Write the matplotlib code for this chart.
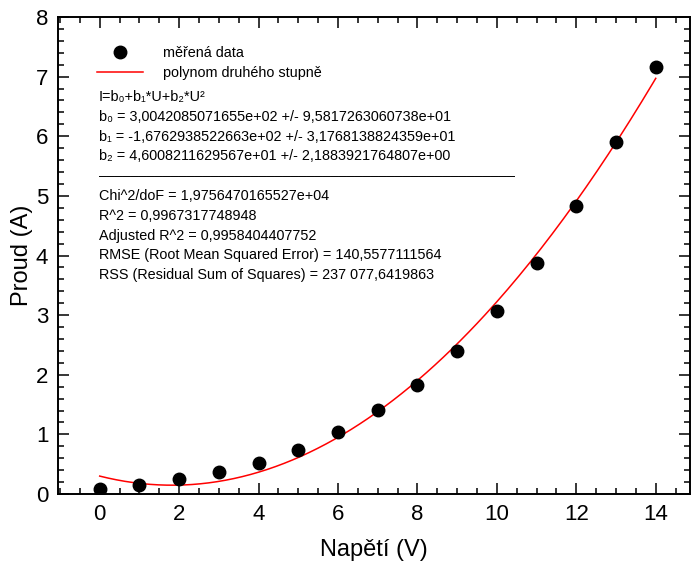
import numpy as np
import matplotlib.pyplot as plt
from matplotlib.lines import Line2D
from matplotlib.ticker import MultipleLocator

plt.rcParams['font.family'] = ['Liberation Sans', 'DejaVu Sans']

# measured data
napeti = [0, 1, 2, 3, 4, 5, 6, 7, 8, 9, 10, 11, 12, 13, 14]
proud = [0.08, 0.15, 0.25, 0.37, 0.52, 0.74, 1.04, 1.41, 1.83, 2.40,
         3.07, 3.88, 4.83, 5.91, 7.16]

# fit coefficients (from the report, mA -> A)
b0 = 3.0042085071655e+02 / 1000
b1 = -1.6762938522663e+02 / 1000
b2 = 4.6008211629567e+01 / 1000

fit_lines = [
    "I=b\u2080+b\u2081*U+b\u2082*U\u00b2",
    "b\u2080 = 3,0042085071655e+02 +/- 9,5817263060738e+01",
    "b\u2081 = -1,6762938522663e+02 +/- 3,1768138824359e+01",
    "b\u2082 = 4,6008211629567e+01 +/- 2,1883921764807e+00",
    "\u2013" * 52,
    "Chi^2/doF = 1,9756470165527e+04",
    "R^2 = 0,9967317748948",
    "Adjusted R^2 = 0,9958404407752",
    "RMSE (Root Mean Squared Error) = 140,5577111564",
    "RSS (Residual Sum of Squares) = 237 077,6419863",
]

W, H = 691, 565
fig = plt.figure(figsize=(W / 100, H / 100), dpi=100)
ax = fig.add_axes([58 / W, 1 - 494 / H, 631.5 / W, 477 / H])

u = np.linspace(0, 14, 200)
ax.plot(u, b0 + b1 * u + b2 * u ** 2, color='red', lw=1.1, zorder=2)
ax.plot(napeti, proud, 'o', color='black', ms=9, zorder=3)

ax.set_xlim(-1.05, 14.85)
ax.set_ylim(0, 8)
ax.xaxis.set_major_locator(MultipleLocator(2))
ax.xaxis.set_minor_locator(MultipleLocator(0.5))
ax.yaxis.set_major_locator(MultipleLocator(1))
ax.yaxis.set_minor_locator(MultipleLocator(0.2))
ax.tick_params(which='both', direction='in', top=True, right=True, width=1.1)
ax.tick_params(which='major', length=8, labelsize=16, pad=7)
ax.tick_params(which='minor', length=4.5)
for s in ax.spines.values():
    s.set_linewidth(1.4)

ax.set_xlabel('Napětí (V)', fontsize=17, labelpad=10)
ax.set_ylabel('Proud (A)', fontsize=17, labelpad=2)

handles = [
    Line2D([], [], marker='o', color='black', ls='none', ms=9),
    Line2D([], [], color='red', lw=1.1),
]
ax.legend(handles, ['měřená data', 'polynom druhého stupně'], loc='upper left',
          bbox_to_anchor=(97 / W, 1 - 46 / H), bbox_transform=fig.transFigure,
          frameon=False, fontsize=10.4, handlelength=3.2, handletextpad=1.4,
          borderpad=0, borderaxespad=0, labelspacing=0.45)

for i, line in enumerate(fit_lines):
    fig.text(99 / W, 1 - (97 + i * 19.8) / H, line, fontsize=10.4, va='center')

fig.savefig('out.png', dpi=100)
